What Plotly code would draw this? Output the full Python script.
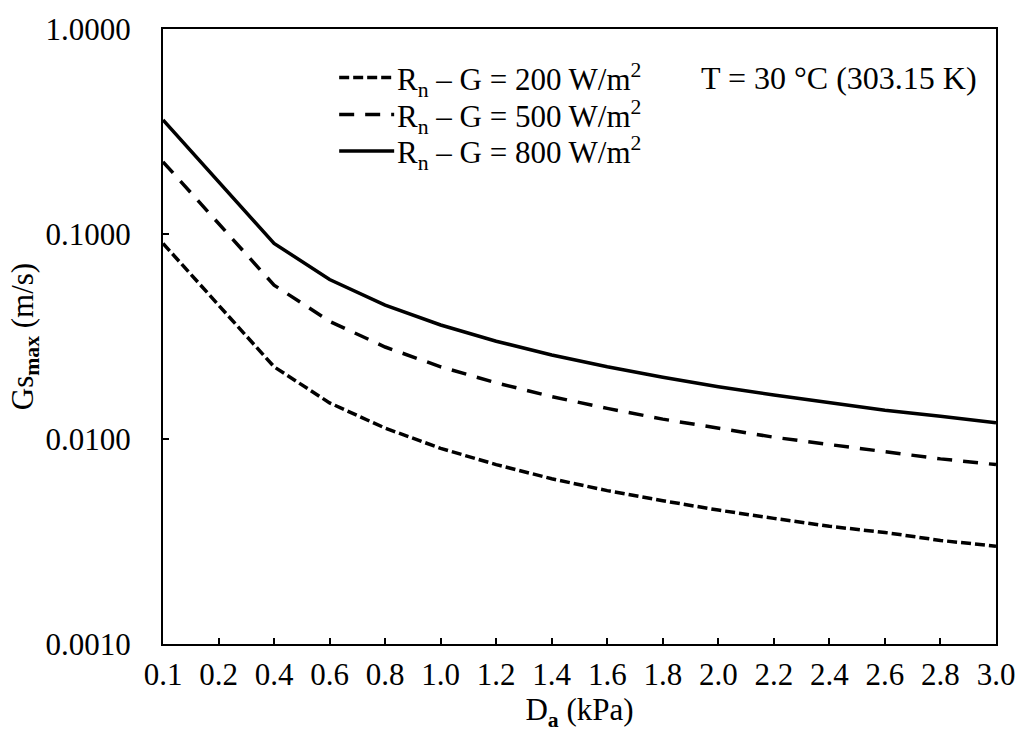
import plotly.graph_objects as go

# Categories (x axis, kPa) - evenly spaced category axis
da_labels = ["0.1", "0.2", "0.4", "0.6", "0.8", "1.0", "1.2", "1.4",
             "1.6", "1.8", "2.0", "2.2", "2.4", "2.6", "2.8", "3.0"]

# Gs_max (m/s)
gs_200 = [0.0900, 0.0450, 0.0225, 0.0150, 0.0113, 0.0090, 0.0075, 0.0064,
          0.0056, 0.0050, 0.0045, 0.0041, 0.00375, 0.0035, 0.0032, 0.0030]
gs_500 = [0.2250, 0.1125, 0.0563, 0.0375, 0.0281, 0.0225, 0.0188, 0.0161,
          0.0141, 0.0125, 0.01125, 0.0102, 0.0094, 0.0087, 0.0080, 0.0075]
gs_800 = [0.3600, 0.1800, 0.0900, 0.0600, 0.0450, 0.0360, 0.0300, 0.0257,
          0.0225, 0.0200, 0.0180, 0.0164, 0.0150, 0.0138, 0.0129, 0.0120]

y_tickvals = [0.001, 0.01, 0.1, 1.0]
y_ticktext = ["0.0010", "0.0100", "0.1000", "1.0000"]

series_names = ["R<sub>n</sub> – G = 200 W/m<sup>2</sup>",
                "R<sub>n</sub> – G = 500 W/m<sup>2</sup>",
                "R<sub>n</sub> – G = 800 W/m<sup>2</sup>"]
series_dash = ["10px,4px", "15px,11px", "solid"]

FONT = "Liberation Serif"
xi = list(range(len(da_labels)))

fig = go.Figure()
for name, ys, dash in zip(series_names, [gs_200, gs_500, gs_800], series_dash):
    fig.add_trace(go.Scatter(
        x=xi, y=ys, mode="lines", name=name, showlegend=False,
        line=dict(color="black", width=3.5, dash=dash),
    ))

# Legend drawn inside the plot (line sample + label), paper coordinates
legend_rows_y = [0.921, 0.861, 0.8016]
shapes = []
annotations = []
for name, dash, yy in zip(series_names, series_dash, legend_rows_y):
    shapes.append(dict(type="line", xref="paper", yref="paper",
                       x0=0.2115, x1=0.2775, y0=yy, y1=yy,
                       line=dict(color="black", width=3.5, dash=dash)))
    annotations.append(dict(text=name, xref="paper", yref="paper",
                            x=0.2785, y=yy - 0.004, xanchor="left",
                            yanchor="middle", showarrow=False,
                            font=dict(size=31)))
annotations.append(dict(
    text="T = 30 °C (303.15 K)", xref="paper", yref="paper",
    x=0.643, y=0.921, xanchor="left", yanchor="middle",
    showarrow=False, font=dict(size=32)))

fig.update_layout(
    width=1027, height=735,
    margin=dict(l=163, r=27, t=24, b=91),
    paper_bgcolor="white", plot_bgcolor="white",
    font=dict(family=FONT, size=31, color="black"),
    showlegend=False,
    shapes=shapes,
    annotations=annotations,
)

fig.update_xaxes(
    range=[0, len(da_labels) - 1],
    tickmode="array", tickvals=xi, ticktext=da_labels,
    ticks="inside", ticklen=6, tickwidth=2, tickcolor="black",
    showline=True, linecolor="black", linewidth=2, mirror=True,
    showgrid=False, zeroline=False,
    ticklabelstandoff=2,
    tickfont=dict(family=FONT, size=31),
    title=dict(text="D<sub><b>a</b></sub> (kPa)", standoff=2,
               font=dict(family=FONT, size=31)),
)
fig.update_yaxes(
    type="log", range=[-3, 0],
    tickmode="array", tickvals=y_tickvals, ticktext=y_ticktext,
    ticks="inside", ticklen=6, tickwidth=2, tickcolor="black",
    showline=True, linecolor="black", linewidth=2, mirror=True,
    showgrid=False, zeroline=False,
    ticklabelstandoff=24,
    tickfont=dict(family=FONT, size=31),
    title=dict(text="Gs<sub><b>max</b></sub> (m/s)", standoff=3,
               font=dict(family=FONT, size=31)),
)

fig.write_html("out.html")
